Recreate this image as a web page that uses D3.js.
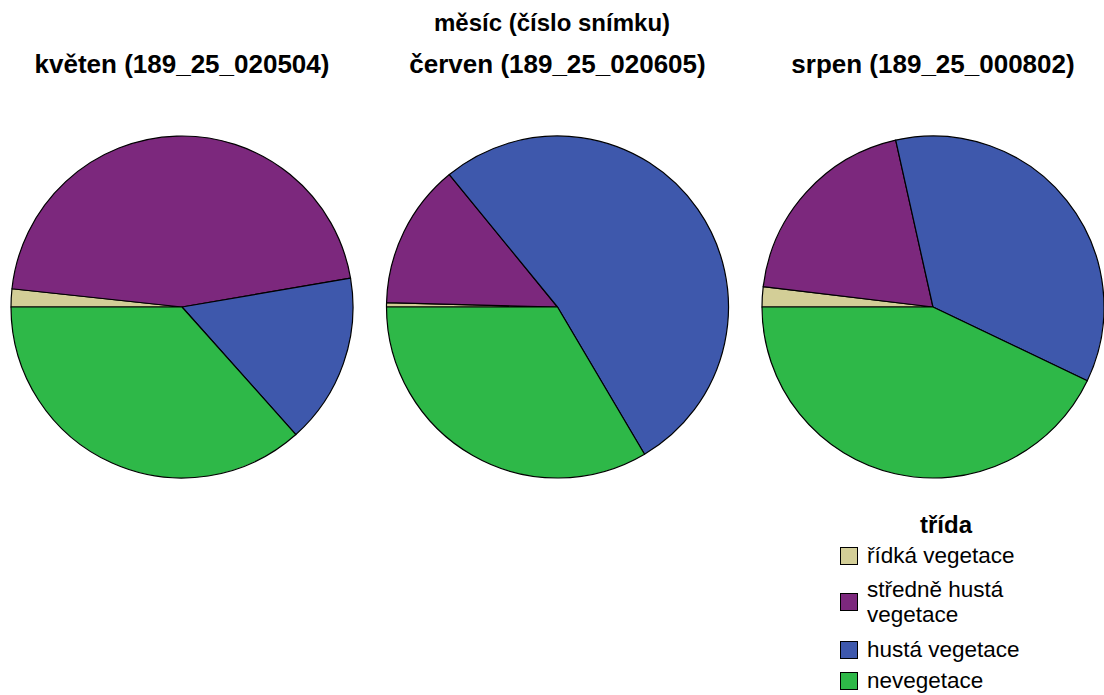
<!DOCTYPE html>
<html>
<head>
<meta charset="utf-8">
<script src="https://cdn.jsdelivr.net/npm/d3@7"></script>
<style>
  html, body { margin: 0; padding: 0; background: #fff; }
  svg { display: block; }
  text { font-family: "Liberation Sans", Arial, sans-serif; fill: #000; }
</style>
</head>
<body>
<svg id="chart" width="1104" height="695"></svg>
<script>
// Land-cover class shares (%) per month image
const classes = ["řídká vegetace", "středně hustá vegetace", "hustá vegetace", "nevegetace"];
const legendLines = [["řídká vegetace"], ["středně hustá", "vegetace"], ["hustá vegetace"], ["nevegetace"]];
const months = ["květen (189_25_020504)", "červen (189_25_020605)", "srpen (189_25_000802)"];
const kveten = [1.7, 45.6, 16.1, 36.6];
const cerven = [0.4, 13.7, 52.4, 33.5];
const srpen  = [1.9, 19.6, 35.6, 42.9];
const series = [kveten, cerven, srpen];
const colors = ["#D3CE97", "#7C287D", "#3E58AC", "#2EB848"];

const svg = d3.select("#chart");

const x = d3.scaleBand().domain(months).range([-5.75, 1120.75]).padding(0);
const color = d3.scaleOrdinal().domain(classes).range(colors);
const radius = 171;
const cy = 307;

svg.append("text")
  .attr("x", 552).attr("y", 31)
  .attr("text-anchor", "middle")
  .attr("font-weight", "bold").attr("font-size", 24)
  .text("měsíc (číslo snímku)");

const pie = d3.pie().sort(null).value(d => d)
  .startAngle(-Math.PI / 2).endAngle(1.5 * Math.PI);
const arc = d3.arc().innerRadius(0).outerRadius(radius);

months.forEach((m, i) => {
  const cx = x(m) + x.bandwidth() / 2;
  svg.append("text")
    .attr("x", cx).attr("y", 73)
    .attr("text-anchor", "middle")
    .attr("font-weight", "bold").attr("font-size", 26)
    .text(m);
  const g = svg.append("g").attr("transform", `translate(${cx},${cy})`);
  g.selectAll("path")
    .data(pie(series[i]))
    .join("path")
    .attr("d", arc)
    .attr("fill", (d, j) => color(classes[j]))
    .attr("stroke", "#000")
    .attr("stroke-width", 1.2)
    .attr("stroke-linejoin", "round");
});

// Legend
const lg = svg.append("g");
lg.append("text")
  .attr("x", 946).attr("y", 533)
  .attr("text-anchor", "middle")
  .attr("font-weight", "bold").attr("font-size", 24)
  .text("třída");
const swY = [547, 593, 641, 672];
const textY = [[563], [597, 622], [657], [688]];
classes.forEach((c, j) => {
  lg.append("rect")
    .attr("x", 840.5).attr("y", swY[j] + 0.5)
    .attr("width", 17).attr("height", 17)
    .attr("fill", color(c)).attr("stroke", "#000").attr("stroke-width", 1);
  const t = lg.append("text").attr("font-size", 22.5);
  legendLines[j].forEach((line, k) => {
    t.append("tspan").attr("x", 867).attr("y", textY[j][k]).text(line);
  });
});
</script>
</body>
</html>
